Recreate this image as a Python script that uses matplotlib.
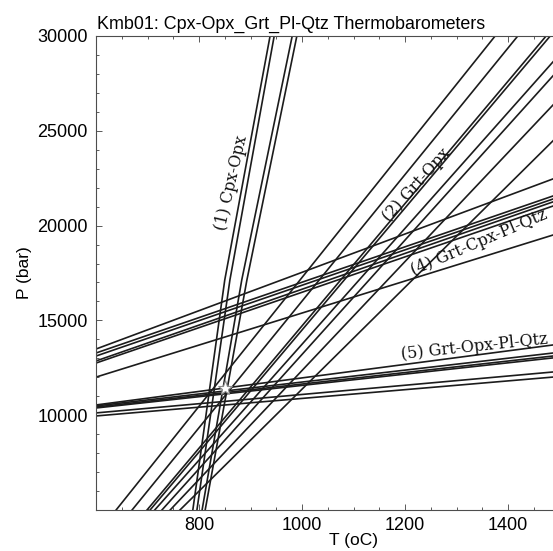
import matplotlib
matplotlib.use("Agg")
import matplotlib.pyplot as plt
from matplotlib.ticker import MultipleLocator

# (1) Cpx-Opx thermometer: T (oC) read at three pressures
cpx_opx_p = [5000, 17130, 30000]
cpx_opx_t = [
    [788, 850, 938],
    [796, 860, 946],
    [806, 883, 981],
    [812, 893, 990],
]

# (2) Grt-Opx: T (oC) at P = 5000 and 30000 bar
grt_opx_p = [5000, 30000]
grt_opx_t = [
    [639, 1375],
    [670, 1419],
    [699, 1474],
    [705, 1482],
    [714, 1532],
    [728, 1557],
    [744, 1614],
    [763, 1693],
]

# (4) Grt-Cpx-Pl-Qtz: P (bar) at T = 600 and 1500
gcpq_t = [600, 1500]
gcpq_p = [
    [13490, 22590],
    [13280, 21680],
    [13120, 21520],
    [12860, 21370],
    [12750, 21150],
    [12010, 19610],
]

# (5) Grt-Opx-Pl-Qtz: P (bar) at T = 600 and 1500
gopq_t = [600, 1500]
gopq_p = [
    [10540, 13750],
    [10490, 13320],
    [10430, 13160],
    [10380, 13060],
    [10120, 12310],
    [9960, 12040],
]

star_t, star_p = 850, 11430

plt.rcParams["font.family"] = ["Liberation Sans", "DejaVu Sans"]

W, H = 553, 551
fig = plt.figure(figsize=(W / 100, H / 100), dpi=100)
# axes runs off the right edge of the picture, like the scanned original
ax = fig.add_axes([96 / W, 1 - 510 / H, (611 - 96) / W, (510 - 36) / H])

lc = "#1c1c1c"
lw = 1.2
for ts in cpx_opx_t:
    ax.plot(ts, cpx_opx_p, color=lc, lw=lw)
for ts in grt_opx_t:
    ax.plot(ts, grt_opx_p, color=lc, lw=lw)
for ps in gcpq_p:
    ax.plot(gcpq_t, ps, color=lc, lw=lw)
for ps in gopq_p:
    ax.plot(gopq_t, ps, color=lc, lw=lw)

ax.plot(star_t, star_p, marker="*", ms=11, mfc="white", mec="0.55", mew=0.8, zorder=5)

lab = dict(family="DejaVu Serif", fontsize=11.5, color="#111111", ha="center", va="center",
           rotation_mode="anchor")
ax.text(864, 22250, "(1) Cpx-Opx", rotation=77, **lab)
ax.text(1223, 22140, "(2) Grt-Opx", rotation=48, **lab)
ax.text(1343, 19130, "(4) Grt-Cpx-Pl-Qtz", rotation=23, **lab)
ax.text(1334, 13600, "(5) Grt-Opx-Pl-Qtz", rotation=6, **lab)

ax.set_xlim(600, 1600)
ax.set_ylim(5000, 30000)
ax.set_xticks([800, 1000, 1200, 1400])
ax.set_yticks([10000, 15000, 20000, 25000, 30000])
ax.xaxis.set_minor_locator(MultipleLocator(50))
ax.yaxis.set_minor_locator(MultipleLocator(1000))
ax.tick_params(which="both", direction="in", top=True, right=True, labelsize=13,
               color="0.35", width=0.7)
ax.tick_params(which="major", length=4)
ax.tick_params(which="minor", length=2.5)
ax.tick_params(axis="x", pad=5)
ax.tick_params(axis="y", pad=6)
for s in ax.spines.values():
    s.set_color("0.3")
    s.set_linewidth(0.8)

ax.set_xlabel("T (oC)", fontsize=12.5, labelpad=-1)
ax.set_ylabel("P (bar)", fontsize=12.5, labelpad=4)
fig.text(97 / W, 1 - 29 / H, "Kmb01: Cpx-Opx_Grt_Pl-Qtz Thermobarometers",
         fontsize=12.9, ha="left", va="baseline")

fig.savefig("out.png", dpi=100)
